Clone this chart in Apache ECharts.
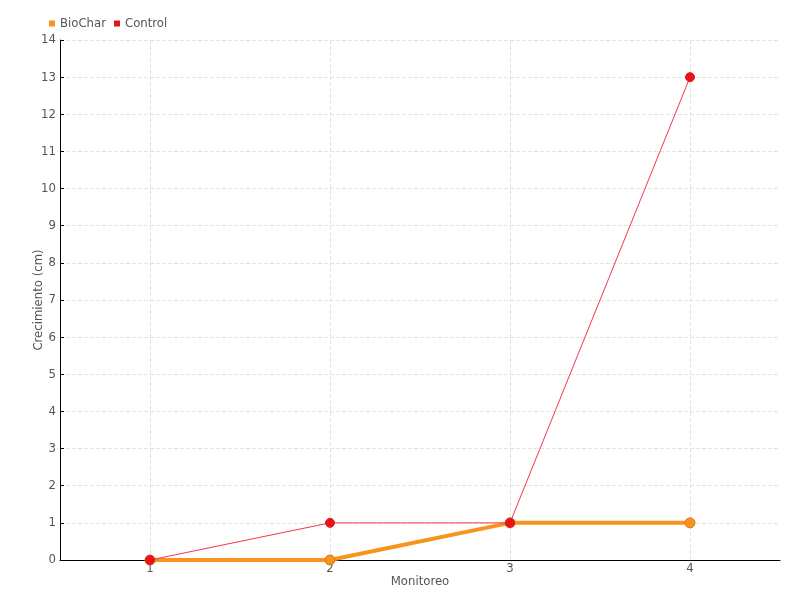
<!DOCTYPE html>
<html><head><meta charset="utf-8">
<script src="https://cdn.jsdelivr.net/npm/echarts@6/dist/echarts.min.js"></script>
<style>html,body{margin:0;padding:0;background:#fff}#c{width:800px;height:600px}</style>
</head><body><div id="c"></div>
<script>
const categories = ['1', '2', '3', '4'];
const biochar = [0, 0, 1, 1];
const control = [0, 1, 1, 13];
const FONT = '"Liberation Sans Narrow", "DejaVu Sans Condensed", sans-serif';
const chart = echarts.init(document.getElementById('c'));
chart.setOption({
  backgroundColor: '#fff',
  textStyle: { fontFamily: FONT },
  legend: {
    left: 44, top: 12, itemWidth: 6, itemHeight: 6, itemGap: 8, icon: 'rect',
    itemStyle: { borderWidth: 0 },
    textStyle: { fontFamily: FONT, fontSize: 13, color: '#555' },
    data: ['BioChar', 'Control']
  },
  grid: { left: 60, right: 20, top: 40, bottom: 40 },
  xAxis: {
    type: 'category', data: categories, boundaryGap: true,
    name: 'Monitoreo', nameLocation: 'middle', nameGap: 15, nameMoveOverlap: false,
    nameTextStyle: { fontFamily: FONT, fontSize: 13, color: '#555' },
    axisLine: { lineStyle: { color: '#000' } },
    axisTick: { alignWithLabel: true, length: 5, lineStyle: { color: '#555' } },
    axisLabel: { margin: 2, fontFamily: FONT, fontSize: 13, color: '#555' },
    splitLine: { show: true, alignWithLabel: true, lineStyle: { type: 'dashed', color: '#e3e3e3' } }
  },
  yAxis: {
    type: 'value', min: 0, max: 14, interval: 1,
    name: 'Crecimiento (cm)', nameLocation: 'middle', nameGap: 15, nameMoveOverlap: false,
    nameTextStyle: { fontFamily: FONT, fontSize: 13, color: '#555' },
    axisLine: { show: true, lineStyle: { color: '#000' } },
    axisTick: { show: true, inside: true, length: 4, lineStyle: { color: '#000' } },
    axisLabel: { margin: 4, fontFamily: FONT, fontSize: 13, color: '#555' },
    splitLine: { show: true, lineStyle: { type: 'dashed', color: '#e3e3e3' } }
  },
  series: [
    {
      name: 'BioChar', type: 'line', data: biochar,
      symbol: 'circle', symbolSize: 10,
      lineStyle: { color: '#f7941d', width: 4 },
      itemStyle: { color: '#f7941d', borderColor: '#d9791a', borderWidth: 1 },
      z: 2
    },
    {
      name: 'Control', type: 'line', data: control,
      symbol: 'circle', symbolSize: 9,
      lineStyle: { color: '#f4364c', width: 1 },
      itemStyle: { color: '#e8141c', borderColor: '#e8141c', borderWidth: 1 },
      z: 3
    }
  ],
  color: ['#f7941d', '#e8141c'],
  animation: false
});
</script></body></html>
